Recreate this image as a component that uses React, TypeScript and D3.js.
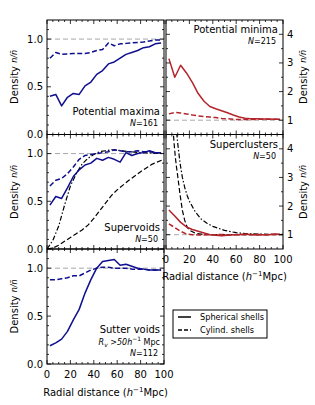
import React from 'react';
import * as d3 from 'd3';

// radial bins (h^-1 Mpc)
const xBins = [2.5, 7.5, 12.5, 17.5, 22.5, 27.5, 32.5, 37.5, 42.5, 47.5, 52.5, 57.5, 62.5, 67.5, 72.5, 77.5, 82.5, 87.5, 92.5, 97.5];

const maximaSph = [0.40, 0.42, 0.30, 0.39, 0.43, 0.42, 0.51, 0.55, 0.63, 0.67, 0.74, 0.76, 0.80, 0.84, 0.86, 0.88, 0.91, 0.92, 0.95, 0.96];
const maximaCyl = [0.80, 0.86, 0.84, 0.845, 0.85, 0.85, 0.85, 0.86, 0.88, 0.89, 0.96, 0.93, 0.95, 0.955, 0.96, 0.965, 0.97, 0.98, 0.99, 0.99];

const minimaSph = [3.15, 2.50, 2.92, 2.65, 2.32, 1.93, 1.66, 1.48, 1.40, 1.33, 1.26, 1.18, 1.11, 1.07, 1.05, 1.05, 1.04, 1.04, 1.03, 1.03];
const minimaCyl = [1.22, 1.27, 1.25, 1.22, 1.18, 1.15, 1.13, 1.11, 1.09, 1.06, 1.05, 1.03, 1.02, 1.02, 1.02, 1.03, 1.03, 1.03, 1.03, 1.03];

const supervoidSph = [0.46, 0.55, 0.53, 0.64, 0.76, 0.83, 0.88, 0.90, 0.95, 0.93, 0.96, 0.94, 0.91, 1.01, 0.98, 1.00, 1.01, 1.03, 1.01, 1.01];
const supervoidCyl = [0.66, 0.72, 0.74, 0.79, 0.86, 0.94, 0.98, 0.99, 1.00, 1.01, 1.02, 1.04, 1.03, 1.02, 1.02, 1.03, 1.02, 1.02, 1.01, 1.01];

// model profiles for supervoids
const svModelX = [0, 5, 10, 15, 20, 25, 30, 35, 40, 45, 50, 55, 60, 70, 80, 90, 100];
const svModelSph = [0, 0.09, 0.24, 0.46, 0.66, 0.79, 0.89, 0.95, 0.99, 1.02, 1.03, 1.04, 1.035, 1.02, 1.01, 1.005, 1.0];
const svModelCyl = [0, 0.01, 0.04, 0.08, 0.12, 0.16, 0.20, 0.25, 0.32, 0.40, 0.48, 0.56, 0.62, 0.72, 0.81, 0.89, 0.94];

const superclusterSph = [1.86, 1.65, 1.43, 1.27, 1.18, 1.12, 1.06, 1.00, 0.98, 0.96, 0.98, 1.00, 1.00, 1.02, 1.01, 0.99, 1.00, 1.00, 1.02, 1.01];
const superclusterCyl = [1.38, 1.25, 1.12, 1.02, 1.00, 0.99, 0.99, 1.00, 1.00, 1.01, 0.99, 1.00, 1.01, 1.00, 1.00, 1.01, 1.00, 1.00, 1.01, 1.01];

// model profiles for superclusters
const scModelX = [5, 6, 7, 8, 9, 10, 12, 14, 16, 18, 20, 25, 30, 35, 40, 50, 60, 70, 80, 100];
const scModelSph = [7.5, 6.5, 5.7, 5.1, 4.6, 4.2, 3.5, 3.0, 2.65, 2.38, 2.17, 1.8, 1.55, 1.4, 1.29, 1.15, 1.07, 1.03, 1.02, 1.01];
const scModelCyl = [5.5, 4.7, 4.15, 3.7, 3.35, 3.05, 2.4, 1.85, 1.5, 1.27, 1.16, 1.05, 1.02, 1.01, 1.0, 1.0, 1.0, 1.0, 1.0, 1.0];

const sutterSph = [0.19, 0.22, 0.26, 0.34, 0.46, 0.57, 0.74, 0.88, 1.00, 1.07, 1.08, 1.09, 1.03, 1.04, 1.02, 1.00, 0.99, 0.98, 0.98, 0.98];
const sutterCyl = [0.88, 0.88, 0.89, 0.90, 0.92, 0.92, 0.95, 0.98, 1.00, 1.01, 1.01, 1.00, 1.00, 1.00, 0.99, 0.99, 0.99, 0.98, 0.98, 0.98];

const xTicks = [0, 20, 40, 60, 80, 100];
const legendLabels = ['Spherical shells', 'Cylind. shells'];

const FONT = 'DejaVu Sans, sans-serif';
const BLUE = '#0e0e8e';
const RED = '#b3252b';
const DASH = '5,2.5';
const DASHDOT = '5,2,1.5,2';

type Series = { x: number[]; y: number[]; color: string; dash?: string; width?: number };

interface PanelProps {
  id: string;
  x0: number; x1: number; y0: number; y1: number;
  yDomain: [number, number];
  yMajor: number[];
  yMinor: number[];
  yFmt: (v: number) => string;
  side: 'left' | 'right';
  showX: boolean;
  series: Series[];
  children?: React.ReactNode;
}

const Panel: React.FC<PanelProps> = ({ id, x0, x1, y0, y1, yDomain, yMajor, yMinor, yFmt, side, showX, series, children }) => {
  const x = d3.scaleLinear().domain([0, 100]).range([x0, x1]);
  const y = d3.scaleLinear().domain(yDomain).range([y1, y0]);
  const xMinor = d3.range(0, 101, 5).filter(v => v % 20 !== 0);
  const line = d3.line<[number, number]>().x(d => x(d[0])).y(d => y(d[1]));
  return (
    <g>
      <defs>
        <clipPath id={id}>
          <rect x={x0} y={y0} width={x1 - x0} height={y1 - y0} />
        </clipPath>
      </defs>
      <g clipPath={`url(#${id})`}>
        <line x1={x0} x2={x1} y1={y(1)} y2={y(1)} stroke="#a8a8a8" strokeWidth={1} strokeDasharray="5,3" />
        {series.map((s, i) => (
          <path key={i} d={line(s.x.map((v, j) => [v, s.y[j]] as [number, number])) || ''}
            fill="none" stroke={s.color} strokeWidth={s.width ?? 1.5} strokeDasharray={s.dash} strokeLinejoin="round" />
        ))}
      </g>
      <rect x={x0} y={y0} width={x1 - x0} height={y1 - y0} fill="none" stroke="#000" strokeWidth={1} />
      {/* x ticks */}
      {xTicks.map(v => (
        <g key={'xM' + v}>
          <line x1={x(v)} x2={x(v)} y1={y1} y2={y1 - 4} stroke="#000" strokeWidth={0.8} />
          <line x1={x(v)} x2={x(v)} y1={y0} y2={y0 + 4} stroke="#000" strokeWidth={0.8} />
        </g>
      ))}
      {xMinor.map(v => (
        <g key={'xm' + v}>
          <line x1={x(v)} x2={x(v)} y1={y1} y2={y1 - 2} stroke="#000" strokeWidth={0.8} />
          <line x1={x(v)} x2={x(v)} y1={y0} y2={y0 + 2} stroke="#000" strokeWidth={0.8} />
        </g>
      ))}
      {/* y ticks */}
      {yMajor.map(v => (
        <g key={'yM' + v}>
          <line x1={x0} x2={x0 + 4} y1={y(v)} y2={y(v)} stroke="#000" strokeWidth={0.8} />
          <line x1={x1} x2={x1 - 4} y1={y(v)} y2={y(v)} stroke="#000" strokeWidth={0.8} />
        </g>
      ))}
      {yMinor.map(v => (
        <g key={'ym' + v}>
          <line x1={x0} x2={x0 + 2} y1={y(v)} y2={y(v)} stroke="#000" strokeWidth={0.8} />
          <line x1={x1} x2={x1 - 2} y1={y(v)} y2={y(v)} stroke="#000" strokeWidth={0.8} />
        </g>
      ))}
      {yMajor.map(v => (
        <text key={'yl' + v} x={side === 'left' ? x0 - 4 : x1 + 4} y={y(v)} dominantBaseline="central"
          textAnchor={side === 'left' ? 'end' : 'start'} fontSize={10} fontFamily={FONT}>{yFmt(v)}</text>
      ))}
      {showX && xTicks.map(v => (
        <text key={'xl' + v} x={x(v)} y={y1 + 10} dominantBaseline="central" textAnchor="middle"
          fontSize={10} fontFamily={FONT}>{v}</text>
      ))}
      {children}
    </g>
  );
};

const YLabel: React.FC<{ x: number; y: number }> = ({ x, y }) => (
  <text transform={`translate(${x},${y}) rotate(-90)`} textAnchor="middle" dominantBaseline="central"
    fontSize={10} fontFamily={FONT}>
    Density <tspan fontStyle="italic" fontSize={8}>n/n{'\u0304'}</tspan>
  </text>
);

const XLabel: React.FC<{ x: number; y: number }> = ({ x, y }) => (
  <text x={x} y={y} textAnchor="middle" fontSize={10} fontFamily={FONT}>
    Radial distance (<tspan fontStyle="italic">h</tspan><tspan fontSize={7} dy={-4}>{'\u2212'}1</tspan><tspan dy={4}>Mpc)</tspan>
  </text>
);

const Note: React.FC<{ x: number; y: number; title: string; n: string }> = ({ x, y, title, n }) => (
  <g fontFamily={FONT}>
    <text x={x} y={y} textAnchor="end" fontSize={10}>{title}</text>
    <text x={x - 2} y={y + 11} textAnchor="end" fontSize={8}>
      <tspan fontStyle="italic">N</tspan>={n}
    </text>
  </g>
);

export default function App() {
  const L = { x0: 47, x1: 164 };
  const R = { x0: 166, x1: 283 };
  const rows = [[20, 134.5], [134.5, 249], [249, 364]];
  const leftY = { yDomain: [0, 1.2] as [number, number], yMajor: [0, 0.5, 1.0], yMinor: d3.range(0.1, 1.2, 0.1).filter(v => Math.abs(v - 0.5) > 0.01 && Math.abs(v - 1) > 0.01), yFmt: d3.format('.1f') };
  const rightY = { yDomain: [0.5, 4.5] as [number, number], yMajor: [1, 2, 3, 4], yMinor: [1.5, 2.5, 3.5], yFmt: (v: number) => String(v) };

  return (
    <div style={{ position: 'absolute', left: 0, top: 0 }}>
      <svg width={315} height={405} style={{ display: 'block', background: '#fff' }}>
        <Panel id="p1" {...L} y0={rows[0][0]} y1={rows[0][1]} {...leftY} side="left" showX={false}
          series={[
            { x: xBins, y: maximaSph, color: BLUE },
            { x: xBins, y: maximaCyl, color: BLUE, dash: DASH },
          ]}>
          <Note x={160} y={115} title="Potential maxima" n="161" />
        </Panel>
        <Panel id="p2" {...R} y0={rows[0][0]} y1={rows[0][1]} {...rightY} side="right" showX={false}
          series={[
            { x: xBins, y: minimaSph, color: RED },
            { x: xBins, y: minimaCyl, color: RED, dash: DASH },
          ]}>
          <Note x={278} y={33} title="Potential minima" n="215" />
        </Panel>
        <Panel id="p3" {...L} y0={rows[1][0]} y1={rows[1][1]} {...leftY} side="left" showX={false}
          series={[
            { x: svModelX, y: svModelSph, color: '#000', dash: DASHDOT, width: 1.2 },
            { x: svModelX, y: svModelCyl, color: '#000', dash: DASH, width: 1.2 },
            { x: xBins, y: supervoidSph, color: BLUE },
            { x: xBins, y: supervoidCyl, color: BLUE, dash: DASH },
          ]}>
          <Note x={160} y={231} title="Supervoids" n="50" />
        </Panel>
        <Panel id="p4" {...R} y0={rows[1][0]} y1={rows[1][1]} {...rightY} side="right" showX={true}
          series={[
            { x: scModelX, y: scModelSph, color: '#000', dash: DASHDOT, width: 1.2 },
            { x: scModelX, y: scModelCyl, color: '#000', dash: DASH, width: 1.2 },
            { x: xBins, y: superclusterSph, color: RED },
            { x: xBins, y: superclusterCyl, color: RED, dash: DASH },
          ]}>
          <Note x={278} y={148} title="Superclusters" n="50" />
        </Panel>
        <Panel id="p5" {...L} y0={rows[2][0]} y1={rows[2][1]} {...leftY} side="left" showX={true}
          series={[
            { x: xBins, y: sutterSph, color: BLUE },
            { x: xBins, y: sutterCyl, color: BLUE, dash: DASH },
          ]}>
          <g fontFamily={FONT}>
            <text x={160} y={333} textAnchor="end" fontSize={10}>Sutter voids</text>
            <text x={160} y={344.5} textAnchor="end" fontSize={8}>
              <tspan fontStyle="italic">R</tspan><tspan fontStyle="italic" fontSize={6} dy={2}>v</tspan>
              <tspan fontStyle="italic" dy={-2}>{' >50h'}</tspan><tspan fontSize={6} dy={-4}>{'\u2212'}1</tspan>
              <tspan dy={4}>{' Mpc'}</tspan>
            </text>
            <text x={158} y={355.5} textAnchor="end" fontSize={8}>
              <tspan fontStyle="italic">N</tspan>=112
            </text>
          </g>
        </Panel>

        <YLabel x={14} y={77} />
        <YLabel x={14} y={192} />
        <YLabel x={14} y={306.5} />
        <YLabel x={303} y={77} />
        <YLabel x={303} y={192} />

        <XLabel x={105.5} y={396} />
        <XLabel x={224.5} y={280} />

        {/* legend */}
        <g fontFamily={FONT}>
          <rect x={173} y={310} width={94} height={28} fill="#fff" stroke="#000" strokeWidth={1} />
          {legendLabels.map((lab, i) => (
            <g key={lab}>
              <line x1={178} x2={191} y1={317 + i * 13} y2={317 + i * 13} stroke="#000" strokeWidth={1.5}
                strokeDasharray={i === 1 ? '4,2' : undefined} />
              <text x={200} y={317 + i * 13} dominantBaseline="central" fontSize={8.2}>{lab}</text>
            </g>
          ))}
        </g>
      </svg>
    </div>
  );
}
